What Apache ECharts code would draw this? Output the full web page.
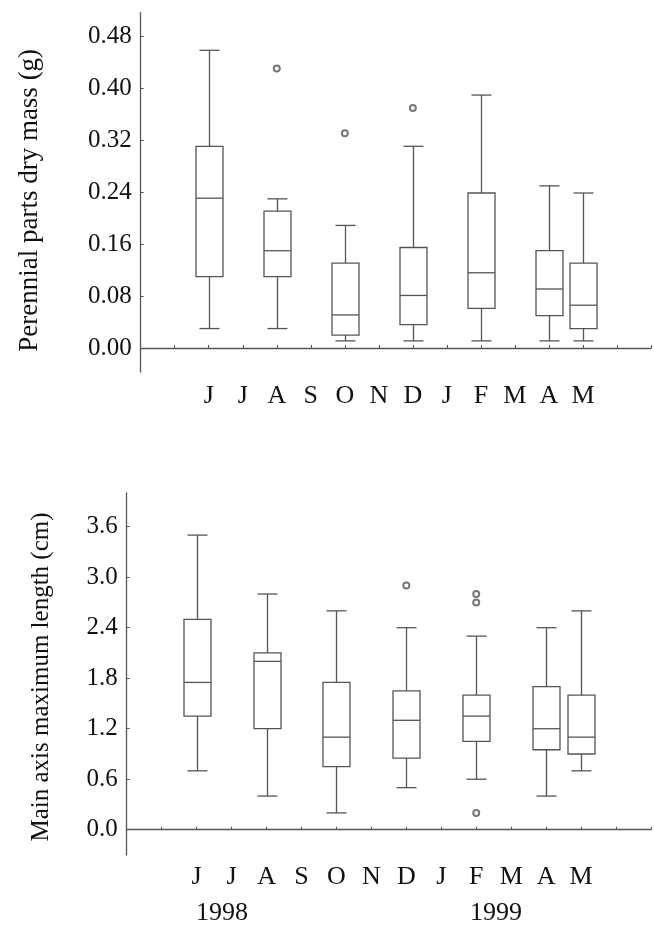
<!DOCTYPE html>
<html>
<head>
<meta charset="utf-8">
<script src="https://cdn.jsdelivr.net/npm/echarts@6/dist/echarts.min.js"></script>
<style>
  html, body { margin: 0; padding: 0; background: #fff; }
  #chart { width: 654px; height: 925px; }
</style>
</head>
<body>
<div id="chart"></div>
<script>
// month slots on the x axis (empty slots at both ends)
var months = ['', '', 'J', 'J', 'A', 'S', 'O', 'N', 'D', 'J', 'F', 'M', 'A', 'M', '', ''];
// sampled months: slot index in months[]
var sampleSlots = [2, 4, 6, 8, 10, 12, 13];

// dry mass (g): min, Q1, median, Q3, max
var massMin = [0.030, 0.030, 0.011, 0.011, 0.011, 0.011, 0.011];
var massQ1 = [0.110, 0.110, 0.020, 0.036, 0.061, 0.050, 0.030];
var massMed = [0.231, 0.150, 0.051, 0.081, 0.116, 0.091, 0.066];
var massQ3 = [0.311, 0.211, 0.131, 0.155, 0.239, 0.150, 0.131];
var massMax = [0.459, 0.230, 0.189, 0.311, 0.390, 0.250, 0.239];
var massOutliers = [[4, 0.431], [6, 0.331], [8, 0.370]];

// main axis length (cm): min, Q1, median, Q3, max
var lenMin = [0.70, 0.40, 0.20, 0.50, 0.60, 0.40, 0.70];
var lenQ1 = [1.35, 1.20, 0.75, 0.85, 1.05, 0.95, 0.90];
var lenMed = [1.75, 2.00, 1.10, 1.30, 1.35, 1.20, 1.10];
var lenQ3 = [2.50, 2.10, 1.75, 1.65, 1.60, 1.70, 1.60];
var lenMax = [3.50, 2.80, 2.60, 2.40, 2.30, 2.40, 2.60];
var lenOutliers = [[8, 2.90], [10, 2.80], [10, 2.70], [10, 0.20]];

var massTicks = [0, 0.08, 0.16, 0.24, 0.32, 0.40, 0.48];
var lenTicks = [0, 0.6, 1.2, 1.8, 2.4, 3.0, 3.6];
var years = ['1998', '1999'];

var FONT = 'Liberation Serif';
var LINE = '#555';

function boxRows(mn, q1, md, q3, mx) {
    return sampleSlots.map(function (s, i) {
        return [s, mn[i], q1[i], md[i], q3[i], mx[i]];
    });
}

function renderBox(params, api) {
    var x = api.value(0);
    var lo = api.coord([x, api.value(1)]);
    var q1 = api.coord([x, api.value(2)]);
    var md = api.coord([x, api.value(3)]);
    var q3 = api.coord([x, api.value(4)]);
    var hi = api.coord([x, api.value(5)]);
    var cx = Math.round(lo[0]) + 0.5;
    var bw = 27, cw = 20;
    var st = { stroke: LINE, lineWidth: 1.3, fill: null };
    function ln(x1, y1, x2, y2) {
        return { type: 'line', shape: { x1: x1, y1: y1, x2: x2, y2: y2 }, style: st };
    }
    return {
        type: 'group',
        children: [
            { type: 'rect', shape: { x: cx - bw / 2, y: q3[1], width: bw, height: q1[1] - q3[1] }, style: st },
            ln(cx - bw / 2, md[1], cx + bw / 2, md[1]),
            ln(cx, q3[1], cx, hi[1]),
            ln(cx - cw / 2, hi[1], cx + cw / 2, hi[1]),
            ln(cx, q1[1], cx, lo[1]),
            ln(cx - cw / 2, lo[1], cx + cw / 2, lo[1])
        ]
    };
}

function xAxisOpt(gridIndex, margin) {
    return {
        type: 'category',
        gridIndex: gridIndex,
        data: months,
        boundaryGap: false,
        axisLine: { lineStyle: { color: LINE, width: 1.3 } },
        axisTick: { inside: true, length: 3, interval: 0, lineStyle: { color: LINE } },
        axisLabel: { interval: 0, margin: margin, color: '#111', fontFamily: FONT, fontSize: 26 },
        splitLine: { show: false }
    };
}

function yAxisOpt(gridIndex, min, max, ticks, digits, name, gap, nameSize, namePad) {
    return {
        type: 'value',
        gridIndex: gridIndex,
        min: min,
        max: max,
        name: name,
        nameLocation: 'middle',
        nameGap: gap,
        nameTextStyle: { color: '#111', fontFamily: FONT, fontSize: nameSize, padding: namePad },
        axisLine: { show: true, lineStyle: { color: LINE, width: 1.3 } },
        axisTick: { show: true, inside: true, length: 3, customValues: ticks, lineStyle: { color: LINE } },
        axisLabel: {
            customValues: ticks,
            margin: 9,
            color: '#111',
            fontFamily: FONT,
            fontSize: 25,
            formatter: function (v) { return v.toFixed(digits); }
        },
        splitLine: { show: false }
    };
}

var chart = echarts.init(document.getElementById('chart'));
chart.setOption({
    backgroundColor: '#fff',
    animation: false,
    grid: [
        { left: 140.7, top: 12.7, width: 511, height: 359.3 },
        { left: 126.7, top: 493, width: 525, height: 362 }
    ],
    xAxis: [xAxisOpt(0, 11), xAxisOpt(1, 9)],
    yAxis: [
        yAxisOpt(0, -0.037, 0.517, massTicks, 2, 'Perennial parts dry mass (g)', 97, 27, [0, 16, 0, 0]),
        yAxisOpt(1, -0.3, 4.0, lenTicks, 1, 'Main axis maximum length (cm)', 73, 25, [0, 6, 0, 0])
    ],
    graphic: [
        { type: 'text', left: 223 - 27, top: 900, style: { text: years[0], font: '26px "Liberation Serif"', fill: '#111' } },
        { type: 'text', left: 497 - 27, top: 900, style: { text: years[1], font: '26px "Liberation Serif"', fill: '#111' } }
    ],
    series: [
        {
            type: 'custom', xAxisIndex: 0, yAxisIndex: 0,
            renderItem: renderBox,
            encode: { x: 0, y: [1, 2, 3, 4, 5] },
            data: boxRows(massMin, massQ1, massMed, massQ3, massMax)
        },
        {
            type: 'scatter', xAxisIndex: 0, yAxisIndex: 0,
            symbol: 'emptyCircle', symbolSize: 6,
            itemStyle: { color: LINE, borderColor: LINE, borderWidth: 1 },
            data: massOutliers
        },
        {
            type: 'custom', xAxisIndex: 1, yAxisIndex: 1,
            renderItem: renderBox,
            encode: { x: 0, y: [1, 2, 3, 4, 5] },
            data: boxRows(lenMin, lenQ1, lenMed, lenQ3, lenMax)
        },
        {
            type: 'scatter', xAxisIndex: 1, yAxisIndex: 1,
            symbol: 'emptyCircle', symbolSize: 6,
            itemStyle: { color: LINE, borderColor: LINE, borderWidth: 1 },
            data: lenOutliers
        }
    ]
});
</script>
</body>
</html>
